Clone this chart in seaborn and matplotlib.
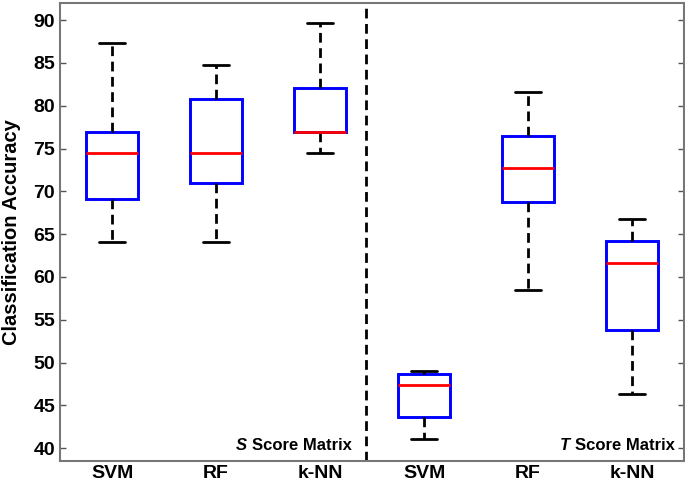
import pandas as pd
import matplotlib
matplotlib.use('Agg')
import matplotlib.pyplot as plt
import seaborn as sns
import numpy as np

# five-number summaries (min, Q1, median, Q3, max)
s_svm = [64.1, 69.1, 74.5, 76.9, 87.3]
s_rf = [64.1, 71.0, 74.5, 80.8, 84.7]
s_knn = [74.5, 76.9, 76.9, 82.1, 89.7]
t_svm = [41.1, 43.6, 47.4, 48.7, 49.0]
t_rf = [58.5, 68.7, 72.7, 76.5, 81.6]
t_knn = [46.3, 53.8, 61.6, 64.2, 66.8]

grupos = ['S-SVM', 'S-RF', 'S-kNN', 'T-SVM', 'T-RF', 'T-kNN']
etiquetas = ['SVM', 'RF', 'k-NN', 'SVM', 'RF', 'k-NN']
valores = [s_svm, s_rf, s_knn, t_svm, t_rf, t_knn]

df = pd.DataFrame({
    'grupo': np.repeat(grupos, 5),
    'acc': np.concatenate(valores),
})

sns.set_style('white')
plt.rcParams['font.family'] = ['Liberation Sans', 'DejaVu Sans']
plt.rcParams['font.weight'] = 'bold'
plt.rcParams['text.color'] = 'black'
plt.rcParams['axes.labelcolor'] = 'black'
plt.rcParams['xtick.color'] = 'black'
plt.rcParams['ytick.color'] = 'black'

fig = plt.figure(figsize=(6.85, 4.83), dpi=100)
ax = fig.add_axes([60 / 685, 22 / 483, 624 / 685, 458 / 483])

sns.boxplot(data=df, x='grupo', y='acc', order=grupos, ax=ax, width=0.5,
            whis=np.inf, color='white', linewidth=2,
            boxprops=dict(facecolor='white', edgecolor='blue', linewidth=2.1),
            medianprops=dict(color='red', linewidth=2),
            whiskerprops=dict(color='black', linewidth=2, linestyle=(0, (3.5, 2))),
            capprops=dict(color='black', linewidth=2),
            capwidths=0.25)

ax.axvline(2.44, color='black', lw=2, linestyle=(0, (3.5, 2)))

ax.set_xlim(-0.5, 5.5)
ax.set_ylim(38.5, 92)
ax.set_yticks(np.arange(40, 91, 5))
ax.set_xticks(range(6))
ax.set_xticklabels(etiquetas, fontsize=14, fontweight='bold')
ax.tick_params(axis='y', labelsize=14, direction='in', length=4, width=1,
               color='#555555', labelcolor='black', right=True, left=True)
ax.tick_params(axis='x', length=0, pad=3, labelcolor='black')
for lab in ax.get_yticklabels():
    lab.set_fontweight('bold')
ax.set_xlabel('')
ax.set_ylabel('Classification Accuracy', fontsize=14.5, fontweight='bold',
              labelpad=9, color='black')
for sp in ax.spines.values():
    sp.set_color('#777777')
    sp.set_linewidth(1.5)

# etiquetas de cada matriz
for xf, letra in [(0.4675, 'S'), (0.9856, 'T')]:
    t1 = ax.text(xf, 0.024, 'Score Matrix', transform=ax.transAxes, ha='right',
                 va='baseline', fontsize=12, fontweight='bold', color='black')
    ax.annotate(letra + ' ', xy=(0, 0), xycoords=t1, ha='right', va='bottom',
                fontsize=12, fontweight='bold', fontstyle='italic', color='black')

fig.savefig('out.png', dpi=100)
